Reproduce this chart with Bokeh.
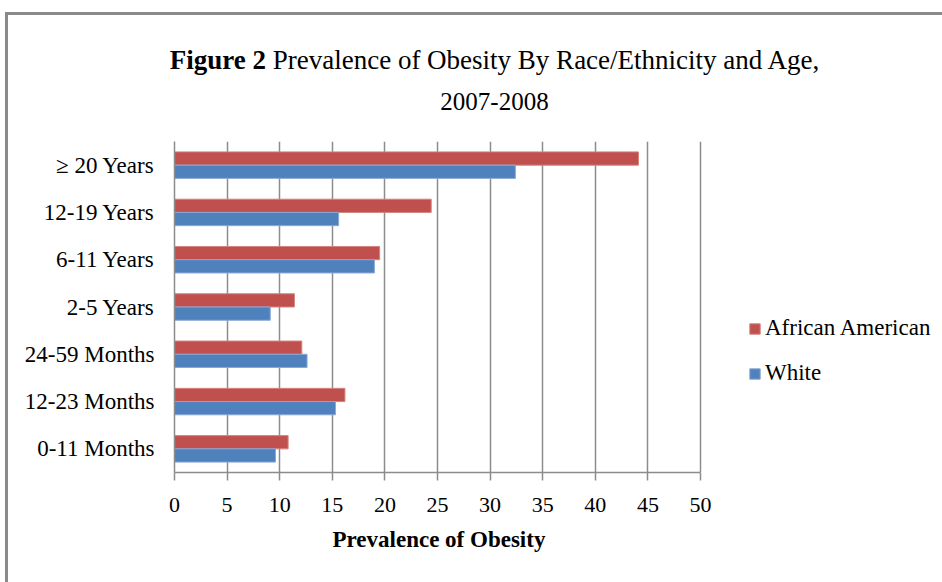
from bokeh.plotting import figure
from bokeh.models import (Legend, LegendItem, FactorRange, Range1d, FixedTicker,
                          ColumnDataSource, Div, Spacer, Title)
from bokeh.layouts import column, row
from bokeh.transform import dodge
from bokeh.embed import file_html
from bokeh.resources import INLINE

# ---- data (bottom to top) ----
categories = ["0-11 Months", "12-23 Months", "24-59 Months", "2-5 Years",
              "6-11 Years", "12-19 Years", "\u2265 20 Years"]
african_american = [10.8, 16.2, 12.1, 11.4, 19.5, 24.4, 44.1]
white = [9.6, 15.3, 12.6, 9.1, 19.0, 15.6, 32.4]
x_ticks = [0, 5, 10, 15, 20, 25, 30, 35, 40, 45, 50]
series_names = ["African American", "White"]
title_bold = "Figure 2"
title_rest = "Prevalence of Obesity By Race/Ethnicity and Age,"
title_line2 = "2007-2008"
x_label = "Prevalence of Obesity"

FONT = "Liberation Serif"
RED = "#C0504D"
BLUE = "#4F81BD"
GRID = "#8c8c8c"
FRAME = "#8a8a8a"

src = ColumnDataSource(dict(cat=categories, aa=african_american, wh=white))

# plot area reaches the right edge so the legend sits inside it;
# axis line and grid are bounded to 0..50
p = figure(width=934, height=454, title=None,
           y_range=FactorRange(*categories),
           x_range=Range1d(0, 73.0),
           output_backend="svg", toolbar_location=None,
           min_border_left=166, min_border_right=0,
           min_border_top=13, min_border_bottom=110)
p.outline_line_color = None
p.background_fill_color = "white"
p.border_fill_color = "white"

r_aa = p.hbar(y=dodge("cat", 0.14, range=p.y_range), right="aa", left=0,
              height=0.28, source=src, fill_color=RED, line_color="#d4837f",
              line_width=1)
r_wh = p.hbar(y=dodge("cat", -0.14, range=p.y_range), right="wh", left=0,
              height=0.28, source=src, fill_color=BLUE, line_color="#8aa9d6",
              line_width=1)

# x axis
xa = p.xaxis[0]
xa.ticker = FixedTicker(ticks=x_ticks)
xa.bounds = (0, 50)
xa.minor_tick_line_color = None
xa.major_tick_in = 0
xa.major_tick_out = 8
xa.major_tick_line_color = GRID
xa.major_tick_line_width = 1.5
xa.axis_line_color = GRID
xa.axis_line_width = 1.5
xa.major_label_text_font = FONT
xa.major_label_text_font_size = "22px"
xa.major_label_text_color = "black"
xa.major_label_standoff = 17

# axis title, centred under the 0..50 span
p.add_layout(Title(text=x_label, align="left", offset=158, standoff=20,
                   text_font=FONT, text_font_size="23px",
                   text_font_style="bold", text_color="black"), "below")

# y axis
ya = p.yaxis[0]
ya.major_tick_out = 0
ya.major_tick_in = 0
ya.minor_tick_line_color = None
ya.axis_line_color = GRID
ya.axis_line_width = 1.5
ya.major_label_text_font = FONT
ya.major_label_text_font_size = "23px"
ya.major_label_text_color = "black"
ya.major_label_standoff = 20

p.xgrid.ticker = FixedTicker(ticks=x_ticks)
p.xgrid.bounds = (0, 50)
p.xgrid.grid_line_color = GRID
p.xgrid.grid_line_width = 1.5
p.ygrid.grid_line_color = None

# legend
legend = Legend(items=[LegendItem(label=series_names[0], renderers=[r_aa]),
                       LegendItem(label=series_names[1], renderers=[r_wh])],
                location=(574, 83), padding=0, margin=0, spacing=13,
                glyph_width=13, glyph_height=13, label_height=32,
                label_standoff=4, border_line_color=None,
                background_fill_alpha=0,
                label_text_font=FONT, label_text_font_size="23px",
                label_text_color="black")
p.add_layout(legend)

# title (HTML, mixed bold / regular)
title_html = (
    '<div style="width:934px;box-sizing:border-box;padding-left:39px;'
    'padding-top:25px;text-align:center;font-family:\'Liberation Serif\';'
    'font-size:27px;line-height:41px;color:#000;white-space:nowrap;">'
    '<b>%s</b> %s<br><span style="font-size:25px;">%s</span></div>'
    % (title_bold, title_rest, title_line2))
title_div = Div(text=title_html, width=934, height=113, margin=0)

top_border = Div(text="", width=934, height=3, margin=0,
                 styles={"background-color": FRAME})
left_border = Div(text="", width=3, height=570, margin=0,
                  styles={"background-color": FRAME})

layout = column(Spacer(width=942, height=12, margin=0),
                row(Spacer(width=5, height=570, margin=0), left_border,
                    column(top_border, title_div, p, margin=0, spacing=0),
                    margin=0, spacing=0),
                margin=0, spacing=0)

open("out.html", "w").write(file_html(layout, INLINE))
